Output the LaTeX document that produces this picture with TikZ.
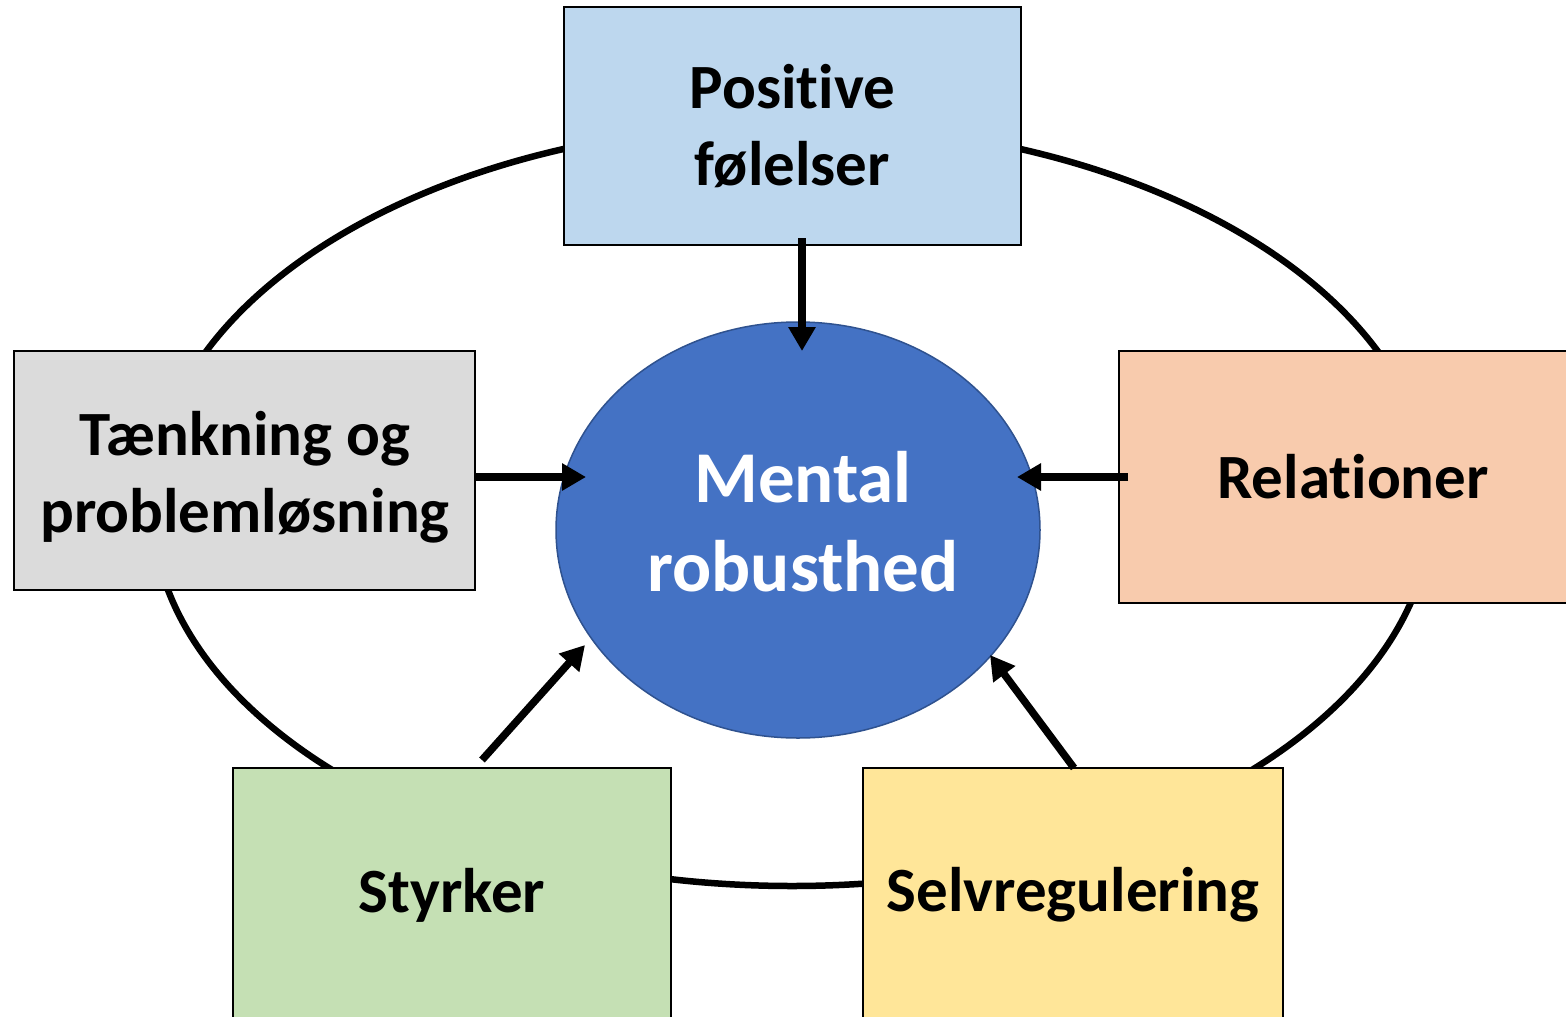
\documentclass[tikz,border=0pt]{standalone}
\usepackage{fontspec}
\setmainfont{Carlito}[Ligatures=NoCommon]
\usetikzlibrary{arrows.meta,shapes.geometric}
\definecolor{cTop}{HTML}{BDD7EE}
\definecolor{cLeft}{HTML}{DBDBDB}
\definecolor{cRight}{HTML}{F8CBAD}
\definecolor{cGreen}{HTML}{C5E0B4}
\definecolor{cYellow}{HTML}{FFE699}
\definecolor{cCenter}{HTML}{4472C4}
\definecolor{cCenterBorder}{HTML}{2F528F}
\tikzset{
  box/.style={draw=black, line width=2pt, rectangle, inner sep=0pt, align=center,
    font=\fontsize{63}{77}\selectfont\bfseries},
  boxtext/.style={align=center, inner sep=0pt, font=\fontsize{63}{77}\selectfont\bfseries},
  ring/.style={draw=black, line width=6.5pt},
  arr/.style={draw=black, line width=7.5pt, -{Triangle[width=26pt,length=24pt]}},
}
\begin{document}
\begin{tikzpicture}[x=1pt,y=-1pt]
\useasboundingbox (0,0) rectangle (1566,1017);
\clip (0,0) rectangle (1566,1017);
\fill[white] (0,0) rectangle (1566,1017);
% outer ring
\draw[ring] (792,505) ellipse [x radius=640, y radius=381];
% boxes
\node[box, fill=cTop, minimum width=457pt, minimum height=238pt] (pos) at (792.5,126) {Positive\\følelser};
\node[box, fill=cLeft, minimum width=461pt, minimum height=239pt] (taenk) at (244.5,470.5) {};
\node[boxtext] (taenktext) at (245,477) {Tænkning og\\problemløsning};
\node[box, fill=cRight, minimum width=468pt, minimum height=252pt] (rel) at (1353,477) {Relationer};
\node[box, fill=cGreen, minimum width=438pt, minimum height=254pt] (sty) at (452,895) {Styrker};
\node[box, fill=cYellow, minimum width=420pt, minimum height=254pt] (selv) at (1073,895) {Selvregulering};
% center
\node[ellipse, draw=cCenterBorder, line width=1.5pt, fill=cCenter, minimum width=484pt, minimum height=416pt, inner sep=0pt] (mr) at (798,530) {};
\node[text=white, align=center, font=\fontsize{73}{89}\selectfont\bfseries] (mrtext) at (803,522) {Mental\\robusthed};
% arrow coordinates
\coordinate (a1s) at (802,238);
\coordinate (a1e) at (802,351);
\coordinate (a2s) at (476,477);
\coordinate (a2e) at (586,477);
\coordinate (a3s) at (1128,477);
\coordinate (a3e) at (1017,477);
\coordinate (a4s) at (482,760);
\coordinate (a4e) at (585,645);
\coordinate (a5s) at (1074,768);
\coordinate (a5e) at (990,655);
\draw[arr] (a1s) -- (a1e);
\draw[arr] (a2s) -- (a2e);
\draw[arr] (a3s) -- (a3e);
\draw[arr] (a4s) -- (a4e);
\draw[arr] (a5s) -- (a5e);
\end{tikzpicture}
\end{document}
